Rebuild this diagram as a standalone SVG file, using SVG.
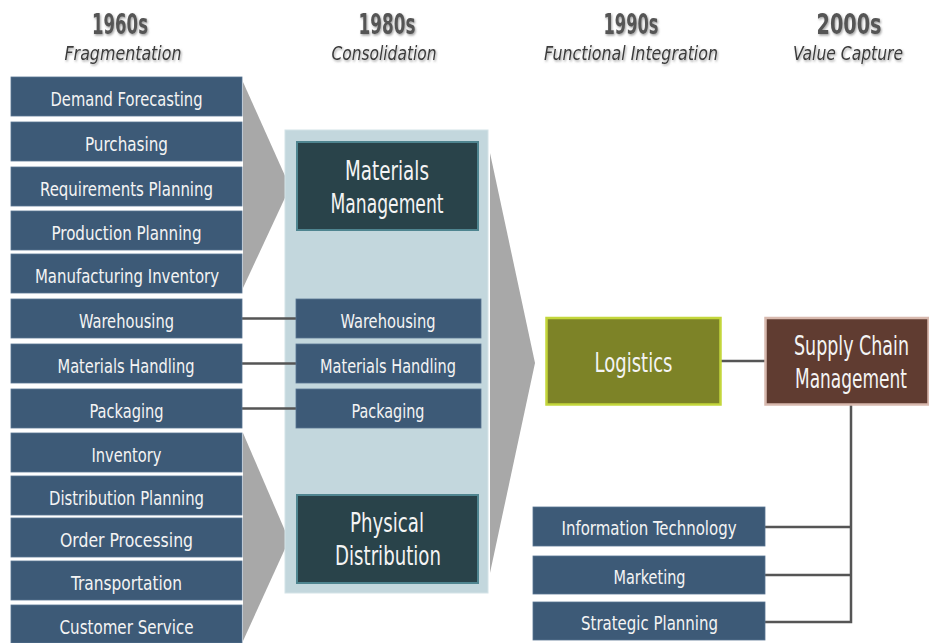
<svg xmlns="http://www.w3.org/2000/svg" width="929" height="643" viewBox="0 0 929 643">
<defs>
<filter id="sh" x="-10%" y="-10%" width="130%" height="140%">
<feDropShadow dx="1" dy="1.5" stdDeviation="1.2" flood-color="#888" flood-opacity="0.8"/>
</filter>
<style>
text{font-family:"Liberation Sans Narrow","DejaVu Sans Condensed","Liberation Sans",sans-serif;text-anchor:middle}
.box{fill:#3d5a77;stroke:#587492;stroke-width:0.8}
.bt{fill:#f4f4f4;font-size:20px}
.dark{fill:#29434a;stroke:#4f8590;stroke-width:2}
.big{fill:#f4f4f4;font-size:26px}
.yr{fill:#555;font-size:29px;font-weight:bold}
.sub{fill:#3a3a3a;font-size:19px;font-style:italic}
.ln{stroke:#555;stroke-width:2.5;fill:none}
.chev{fill:#a8a8a8}
</style>
</defs>
<rect width="929" height="643" fill="#fff"/>

<g id="headers" filter="url(#sh)">
<text class="yr" x="120" y="34" textLength="56" lengthAdjust="spacingAndGlyphs">1960s</text>
<text class="sub" x="123" y="60" textLength="117" lengthAdjust="spacingAndGlyphs">Fragmentation</text>
<text class="yr" x="387" y="34" textLength="57" lengthAdjust="spacingAndGlyphs">1980s</text>
<text class="sub" x="384" y="60" textLength="105" lengthAdjust="spacingAndGlyphs">Consolidation</text>
<text class="yr" x="631" y="34" textLength="55" lengthAdjust="spacingAndGlyphs">1990s</text>
<text class="sub" x="631" y="60" textLength="174" lengthAdjust="spacingAndGlyphs">Functional Integration</text>
<text class="yr" x="849" y="34" textLength="65" lengthAdjust="spacingAndGlyphs">2000s</text>
<text class="sub" x="848" y="60" textLength="110" lengthAdjust="spacingAndGlyphs">Value Capture</text>
</g>

<g id="arrows">
<polygon class="chev" points="243,82 290,187 243,288"/>
<polygon class="chev" points="243,433 289,540 243,641"/>
<rect id="panel" x="285" y="130" width="203" height="463" fill="#c3d7dd" stroke="#d4e3e7" stroke-width="1"/>
<polygon class="chev" points="490,153 535,363 490,573"/>
</g>

<g id="connectors">
<line class="ln" x1="242" y1="318.5" x2="296" y2="318.5"/>
<line class="ln" x1="242" y1="363.5" x2="296" y2="363.5"/>
<line class="ln" x1="242" y1="408.5" x2="296" y2="408.5"/>
<line class="ln" x1="721" y1="361" x2="765" y2="361"/>
<polyline class="ln" points="851,405 851,622 765,622"/>
<line class="ln" x1="765" y1="527" x2="851" y2="527"/>
<line class="ln" x1="765" y1="575" x2="851" y2="575"/>
</g>

<g id="demand-forecasting"><rect class="box" x="11" y="77" width="231" height="39"/><text class="bt" x="126.5" y="106" textLength="152" lengthAdjust="spacingAndGlyphs">Demand Forecasting</text></g>
<g id="purchasing"><rect class="box" x="11" y="122" width="231" height="39"/><text class="bt" x="126.5" y="151" textLength="83" lengthAdjust="spacingAndGlyphs">Purchasing</text></g>
<g id="requirements-planning"><rect class="box" x="11" y="167" width="231" height="39"/><text class="bt" x="126.5" y="196" textLength="173" lengthAdjust="spacingAndGlyphs">Requirements Planning</text></g>
<g id="production-planning"><rect class="box" x="11" y="211" width="231" height="39"/><text class="bt" x="126.5" y="240" textLength="150" lengthAdjust="spacingAndGlyphs">Production Planning</text></g>
<g id="manufacturing-inventory"><rect class="box" x="11" y="254" width="231" height="39"/><text class="bt" x="127" y="283" textLength="184" lengthAdjust="spacingAndGlyphs">Manufacturing Inventory</text></g>
<g id="warehousing-1"><rect class="box" x="11" y="299" width="231" height="39"/><text class="bt" x="126.5" y="328" textLength="95" lengthAdjust="spacingAndGlyphs">Warehousing</text></g>
<g id="materials-handling-1"><rect class="box" x="11" y="344" width="231" height="39"/><text class="bt" x="126" y="373" textLength="137" lengthAdjust="spacingAndGlyphs">Materials Handling</text></g>
<g id="packaging-1"><rect class="box" x="11" y="389" width="231" height="39"/><text class="bt" x="126.5" y="418" textLength="74" lengthAdjust="spacingAndGlyphs">Packaging</text></g>
<g id="inventory"><rect class="box" x="11" y="433" width="231" height="39"/><text class="bt" x="126.5" y="462" textLength="70" lengthAdjust="spacingAndGlyphs">Inventory</text></g>
<g id="distribution-planning"><rect class="box" x="11" y="476" width="231" height="39"/><text class="bt" x="126.5" y="505" textLength="155" lengthAdjust="spacingAndGlyphs">Distribution Planning</text></g>
<g id="order-processing"><rect class="box" x="11" y="518" width="231" height="39"/><text class="bt" x="126.5" y="547" textLength="133" lengthAdjust="spacingAndGlyphs">Order Processing</text></g>
<g id="transportation"><rect class="box" x="11" y="561" width="231" height="39"/><text class="bt" x="126.5" y="590" textLength="111" lengthAdjust="spacingAndGlyphs">Transportation</text></g>
<g id="customer-service"><rect class="box" x="11" y="605" width="231" height="38"/><text class="bt" x="126.5" y="634" textLength="134" lengthAdjust="spacingAndGlyphs">Customer Service</text></g>

<g id="materials-management"><rect class="dark" x="297" y="142" width="181" height="88"/><text class="big" x="387" y="180" textLength="84" lengthAdjust="spacingAndGlyphs">Materials</text><text class="big" x="387" y="213" textLength="113" lengthAdjust="spacingAndGlyphs">Management</text></g>
<g id="warehousing-2"><rect class="box" x="296" y="299" width="185" height="39"/><text class="bt" x="388" y="328" textLength="95" lengthAdjust="spacingAndGlyphs">Warehousing</text></g>
<g id="materials-handling-2"><rect class="box" x="296" y="344" width="185" height="39"/><text class="bt" x="388" y="373" textLength="136" lengthAdjust="spacingAndGlyphs">Materials Handling</text></g>
<g id="packaging-2"><rect class="box" x="296" y="389" width="185" height="39"/><text class="bt" x="388" y="418" textLength="73" lengthAdjust="spacingAndGlyphs">Packaging</text></g>
<g id="physical-distribution"><rect class="dark" x="297" y="495" width="181" height="88"/><text class="big" x="387" y="532" textLength="74" lengthAdjust="spacingAndGlyphs">Physical</text><text class="big" x="388" y="565" textLength="106" lengthAdjust="spacingAndGlyphs">Distribution</text></g>

<g id="logistics"><rect x="546.5" y="318" width="174" height="86.5" fill="#7d8327" stroke="#c3d63b" stroke-width="2.5"/><text class="big" x="633.5" y="372" textLength="78" lengthAdjust="spacingAndGlyphs">Logistics</text></g>
<g id="supply-chain-management"><rect x="765.5" y="318" width="163" height="86.5" fill="#603c31" stroke="#d8b9ae" stroke-width="2.5"/><text class="big" x="851.5" y="355" textLength="115" lengthAdjust="spacingAndGlyphs">Supply Chain</text><text class="big" x="851" y="388" textLength="112" lengthAdjust="spacingAndGlyphs">Management</text></g>

<g id="information-technology"><rect class="box" x="533" y="507" width="232" height="39"/><text class="bt" x="649" y="535" textLength="175" lengthAdjust="spacingAndGlyphs">Information Technology</text></g>
<g id="marketing"><rect class="box" x="533" y="556" width="232" height="38"/><text class="bt" x="649.5" y="584" textLength="72" lengthAdjust="spacingAndGlyphs">Marketing</text></g>
<g id="strategic-planning"><rect class="box" x="533" y="602" width="232" height="38"/><text class="bt" x="649.5" y="630" textLength="137" lengthAdjust="spacingAndGlyphs">Strategic Planning</text></g>
</svg>
